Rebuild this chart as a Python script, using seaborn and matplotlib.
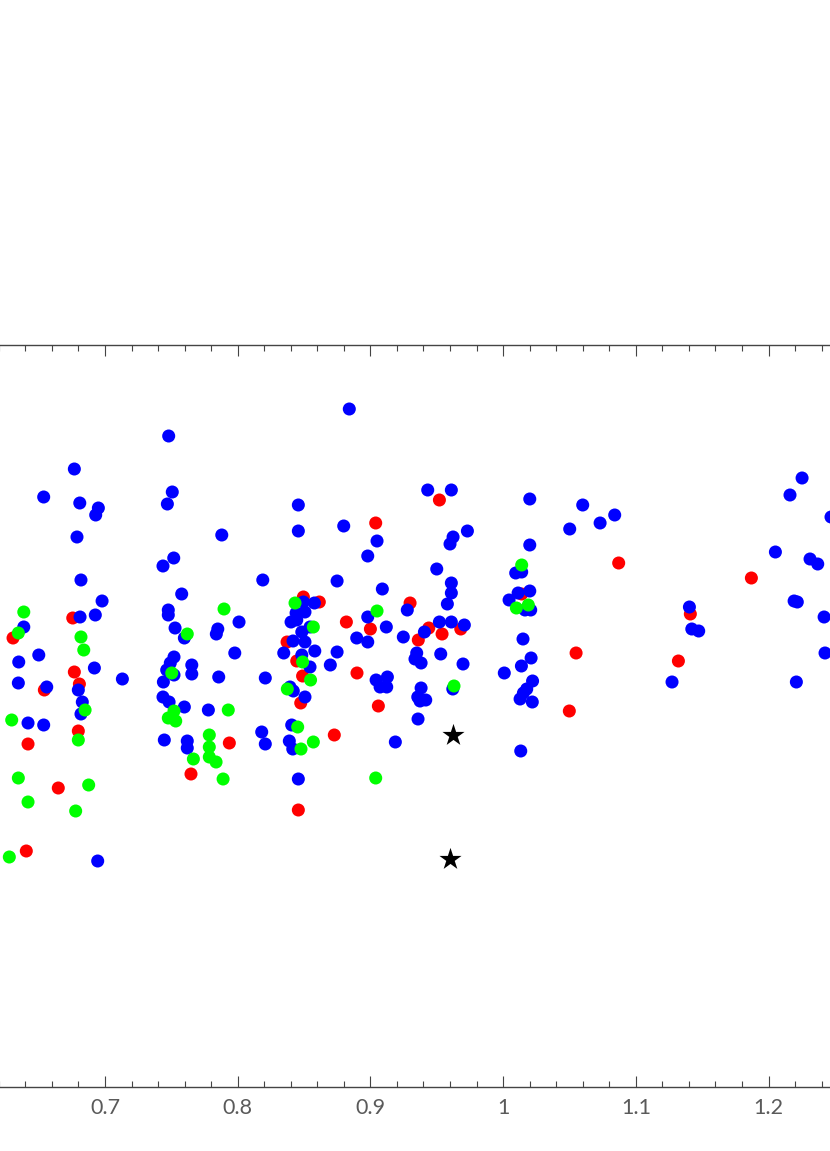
import matplotlib
matplotlib.use("Agg")
import matplotlib.pyplot as plt
import seaborn as sns
import pandas as pd
from matplotlib.ticker import MultipleLocator, FixedLocator, FixedFormatter

sns.set_theme(style="white")
plt.rcParams['font.family'] = ['Lato', 'DejaVu Sans']

# ---- data ----
blue_x = [0.7480, 0.6769, 0.6538, 0.6810, 0.6950, 0.6930, 0.7507, 0.7470, 0.6789, 0.7880,
          0.8457, 0.8457, 0.7518, 0.7437, 0.6819, 0.8189, 0.7578, 0.6978, 0.6927, 0.6812,
          0.7477, 0.7477, 0.8010, 0.7850, 0.7839, 0.6388, 0.7528, 0.7598, 0.6350, 0.6501,
          0.6920, 0.7520, 0.7492, 0.7465, 0.7654, 0.7978, 0.8347, 0.8417, 0.8402, 0.8440,
          0.7131, 0.6347, 0.6561, 0.6799, 0.6829, 0.6819, 0.6420, 0.6538, 0.7520, 0.7654,
          0.7857, 0.8208, 0.7440, 0.7437, 0.7483, 0.7598, 0.7779, 0.7447, 0.7620, 0.7620,
          0.8181, 0.8208, 0.8394, 0.8419, 0.8407, 0.8389, 0.8415, 0.8457, 0.6945, 0.8841,
          0.9432, 0.9610, 1.0201, 0.8799, 0.9050, 0.8980, 0.9731, 0.9623, 0.9600, 1.0201,
          0.9500, 0.8749, 0.9090, 0.9610, 0.9610, 0.9580, 1.0095, 1.0140, 1.0045, 1.0113,
          1.0201, 1.0165, 1.0208, 1.0150, 1.0211, 1.0138, 1.0009, 1.0222, 0.9278, 0.8980,
          0.9120, 0.8897, 0.8980, 0.9248, 0.9407, 0.9520, 0.9610, 0.9708, 0.9349, 0.9336,
          0.9382, 0.9530, 0.9698, 0.8749, 0.8698, 0.8581, 0.9043, 0.9128, 0.8495, 0.8578,
          0.8507, 0.8445, 0.8545, 0.8483, 0.8507, 0.8483, 0.8545, 0.8507, 0.9073, 0.9123,
          0.9382, 0.9357, 0.9417, 0.9374, 0.9359, 0.9621, 1.0178, 1.0153, 1.0128, 1.0220,
          1.0133, 0.9188, 1.2253, 1.2162, 1.2471, 1.0600, 1.0841, 1.0731, 1.0502, 1.2052,
          1.2313, 1.2371, 1.1404, 1.1422, 1.1474, 1.2193, 1.2217, 1.2419, 1.2426, 1.1273,
          1.2210]
blue_y = [6.51, 6.18, 5.90, 5.84, 5.79, 5.72, 5.95, 5.83, 5.50, 5.52,
          5.82, 5.56, 5.29, 5.21, 5.07, 5.07, 4.93, 4.86, 4.72, 4.70,
          4.77, 4.72, 4.65, 4.58, 4.53, 4.60, 4.59, 4.49, 4.25, 4.32,
          4.19, 4.30, 4.24, 4.17, 4.22, 4.34, 4.34, 4.46, 4.65, 4.74,
          4.08, 4.04, 4.00, 3.97, 3.85, 3.73, 3.64, 3.62, 4.12, 4.13,
          4.10, 4.09, 4.05, 3.90, 3.85, 3.80, 3.77, 3.47, 3.46, 3.39,
          3.55, 3.43, 4.00, 3.96, 3.62, 3.46, 3.38, 3.08, 2.26, 6.78,
          5.97, 5.97, 5.88, 5.61, 5.46, 5.31, 5.56, 5.50, 5.43, 5.42,
          5.18, 5.06, 4.98, 5.04, 4.94, 4.83, 5.14, 5.15, 4.87, 4.94,
          4.96, 4.77, 4.77, 4.48, 4.29, 4.21, 4.14, 4.06, 4.77, 4.70,
          4.60, 4.49, 4.45, 4.50, 4.55, 4.65, 4.65, 4.62, 4.34, 4.28,
          4.24, 4.33, 4.23, 4.35, 4.22, 4.36, 4.07, 4.10, 4.85, 4.84,
          4.75, 4.67, 4.60, 4.55, 4.45, 4.32, 4.20, 3.90, 4.00, 4.00,
          3.99, 3.90, 3.87, 3.86, 3.68, 3.98, 3.98, 3.94, 3.88, 3.85,
          3.36, 3.45, 6.09, 5.92, 5.70, 5.82, 5.72, 5.64, 5.58, 5.35,
          5.28, 5.23, 4.80, 4.58, 4.56, 4.86, 4.85, 4.70, 4.34, 4.05,
          4.05]

red_x = [0.6757, 0.6307, 0.6769, 0.8372, 0.8445, 0.6543, 0.6807, 0.6799, 0.6420, 0.6648,
         0.6407, 0.7937, 0.7648, 0.8475, 0.8457, 0.9520, 0.9040, 0.9299, 0.8819, 0.9000,
         0.9361, 0.9440, 0.9540, 0.9681, 1.0140, 0.8899, 0.8495, 0.8615, 0.8489, 0.9060,
         0.8728, 1.0871, 1.1871, 1.1411, 1.0550, 1.1321, 1.0499]
red_y = [4.69, 4.49, 4.15, 4.45, 4.26, 3.97, 4.03, 3.56, 3.43, 2.99,
         2.36, 3.44, 3.13, 3.84, 2.77, 5.87, 5.64, 4.84, 4.65, 4.58,
         4.47, 4.59, 4.53, 4.58, 4.93, 4.14, 4.90, 4.85, 4.11, 3.81,
         3.52, 5.24, 5.09, 4.73, 4.34, 4.26, 3.76]

green_x = [0.7897, 0.6388, 0.6347, 0.6819, 0.6840, 0.7620, 0.8432, 0.6850, 0.6799, 0.6297,
           0.6347, 0.6877, 0.6420, 0.6779, 0.6279, 0.7503, 0.7520, 0.7477, 0.7533, 0.7929,
           0.7786, 0.7786, 0.7786, 0.7837, 0.7666, 0.7890, 0.8374, 0.8452, 0.8477, 1.0140,
           1.0100, 1.0190, 0.9050, 0.8570, 0.8489, 0.8549, 0.9630, 0.8570, 0.9040]
green_y = [4.78, 4.75, 4.54, 4.50, 4.37, 4.53, 4.84, 3.77, 3.47, 3.67,
           3.09, 3.02, 2.85, 2.76, 2.30, 4.14, 3.76, 3.69, 3.66, 3.77,
           3.52, 3.40, 3.30, 3.25, 3.28, 3.08, 3.98, 3.60, 3.38, 5.22,
           4.79, 4.82, 4.76, 4.60, 4.25, 4.07, 4.01, 3.45, 3.09]

star_x = [0.9621, 0.9600]
star_y = [3.52, 2.28]

# major ticks; the outermost ones fall outside the visible crop and carry no label
xtick_major = [0.6, 0.7, 0.8, 0.9, 1.0, 1.1, 1.2, 1.3]
xtick_labels = ["", "0.7", "0.8", "0.9", "1", "1.1", "1.2", ""]

groups = ["red", "blue", "green"]
colors = {"red": "#ff0000", "blue": "#0000ff", "green": "#00ff00"}

df = pd.concat([
    pd.DataFrame({"x": red_x, "y": red_y, "group": "red"}),
    pd.DataFrame({"x": blue_x, "y": blue_y, "group": "blue"}),
    pd.DataFrame({"x": green_x, "y": green_y, "group": "green"}),
], ignore_index=True)
stars = pd.DataFrame({"x": star_x, "y": star_y})

# ---- figure ----
fig = plt.figure(figsize=(8.30, 11.51), dpi=100)
ax = fig.add_axes([-0.1, 0.05534, 1.2, 0.64466])

sns.scatterplot(data=df, x="x", y="y", hue="group", palette=colors, hue_order=groups,
                s=88, linewidth=0, legend=False, ax=ax, zorder=3)
sns.scatterplot(data=stars, x="x", y="y", marker="*", color="black", s=280,
                linewidth=0, ax=ax, zorder=4)

ax.set_xlim(0.55833, 1.30889)
ax.set_ylim(-0.003, 7.417)
ax.set_xlabel("")
ax.set_ylabel("")

ax.xaxis.set_major_locator(FixedLocator(xtick_major))
ax.xaxis.set_major_formatter(FixedFormatter(xtick_labels))
ax.xaxis.set_minor_locator(MultipleLocator(0.02))
ax.set_yticks([])

for side in ["left", "right"]:
    ax.spines[side].set_visible(False)
for side in ["top", "bottom"]:
    ax.spines[side].set_visible(True)
    ax.spines[side].set_color("#444444")
    ax.spines[side].set_linewidth(1.0)

ax.tick_params(axis="x", which="both", direction="in", top=True, bottom=True,
               color="#444444", width=0.8, labelcolor="#5a5a5a")
ax.tick_params(axis="x", which="major", length=8, pad=8, labelsize=15.5)
ax.tick_params(axis="x", which="minor", length=4)

fig.savefig("out.png", dpi=100, facecolor="white")
